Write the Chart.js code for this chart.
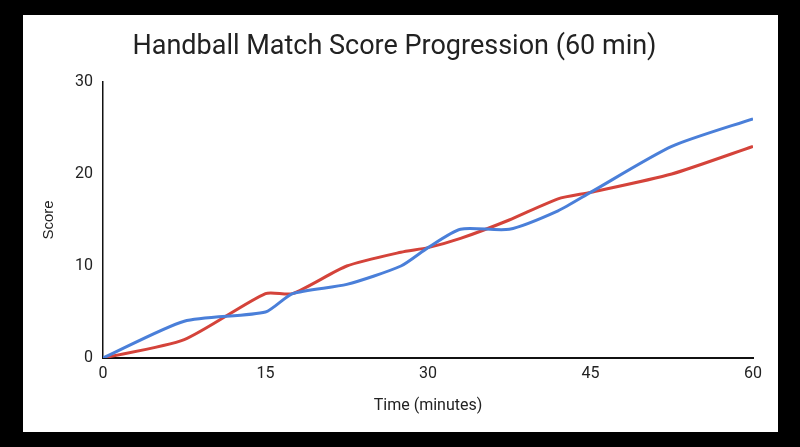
<!DOCTYPE html>
<html>
<head>
<meta charset="utf-8">
<script src="https://cdn.jsdelivr.net/npm/chart.js@4"></script>
<style>
  html, body { margin: 0; padding: 0; background: #000; }
  #wrap {
    position: absolute;
    left: 23px; top: 15px;
    width: 755px; height: 417px;
    background: #fff;
  }
</style>
</head>
<body>
<div id="wrap"><canvas id="scoreChart"></canvas></div>
<script>
// time in minutes where the curves bend
const minutes = [0, 7.5, 15, 17.5, 22.5, 27.5, 30, 33, 37.5, 42, 45, 52.5, 60];
const teamBlue = [0, 4, 5, 7, 8, 10, 12, 14, 14, 16, 18, 23, 26];
const teamRed  = [0, 2, 7, 7, 10, 11.5, 12, 13, 15, 17.3, 18, 20, 23];
const xTicks = [0, 15, 30, 45, 60];
const yTicks = [0, 10, 20, 30];

function toPoints(values) {
    return minutes.map((m, i) => ({ x: m, y: values[i] }));
}

const ctx = document.getElementById("scoreChart").getContext("2d");

new Chart(ctx, {
    type: "line",
    data: {
        datasets: [
            {
                label: "Team A",
                data: toPoints(teamBlue),
                borderColor: "#4a7fd9",
                borderWidth: 3,
                pointRadius: 0,
                tension: 0.22
            },
            {
                label: "Team B",
                data: toPoints(teamRed),
                borderColor: "#d4433a",
                borderWidth: 3,
                pointRadius: 0,
                tension: 0.22
            }
        ]
    },
    options: {
        responsive: true,
        maintainAspectRatio: false,
        animation: false,
        layout: { padding: { left: 13, right: 25, top: 0, bottom: 0 } },
        scales: {
            x: {
                type: "linear",
                min: 0,
                max: 60,
                afterBuildTicks: s => { s.ticks = xTicks.map(v => ({ value: v })); },
                afterFit: s => { s.height = 74; },
                grid: { display: false, drawTicks: false },
                border: { display: true, color: "#111", width: 2 },
                ticks: { padding: 6, color: "#222", font: { family: "Roboto", size: 16 } },
                title: {
                    display: true,
                    text: "Time (minutes)",
                    color: "#222",
                    font: { family: "Roboto", size: 16 },
                    padding: { top: 0, bottom: 16.4 }
                }
            },
            y: {
                min: 0,
                max: 30,
                afterBuildTicks: s => { s.ticks = yTicks.map(v => ({ value: v })); },
                afterFit: s => { s.width = 67; },
                grid: { display: false, drawTicks: false },
                border: { display: true, color: "#111", width: 1.5 },
                ticks: { padding: 10, color: "#222", font: { family: "Roboto", size: 16 } },
                title: {
                    display: true,
                    text: "Score",
                    color: "#222",
                    font: { family: "Liberation Sans", size: 15 },
                    padding: { top: 4, bottom: 0 }
                }
            }
        },
        plugins: {
            legend: { display: false },
            tooltip: { enabled: false },
            title: {
                display: true,
                text: "Handball Match Score Progression (60 min)",
                color: "#222",
                font: { family: "Roboto", size: 27, weight: "normal" },
                padding: { top: 15.6, bottom: 19 }
            }
        }
    }
});
</script>
</body>
</html>
